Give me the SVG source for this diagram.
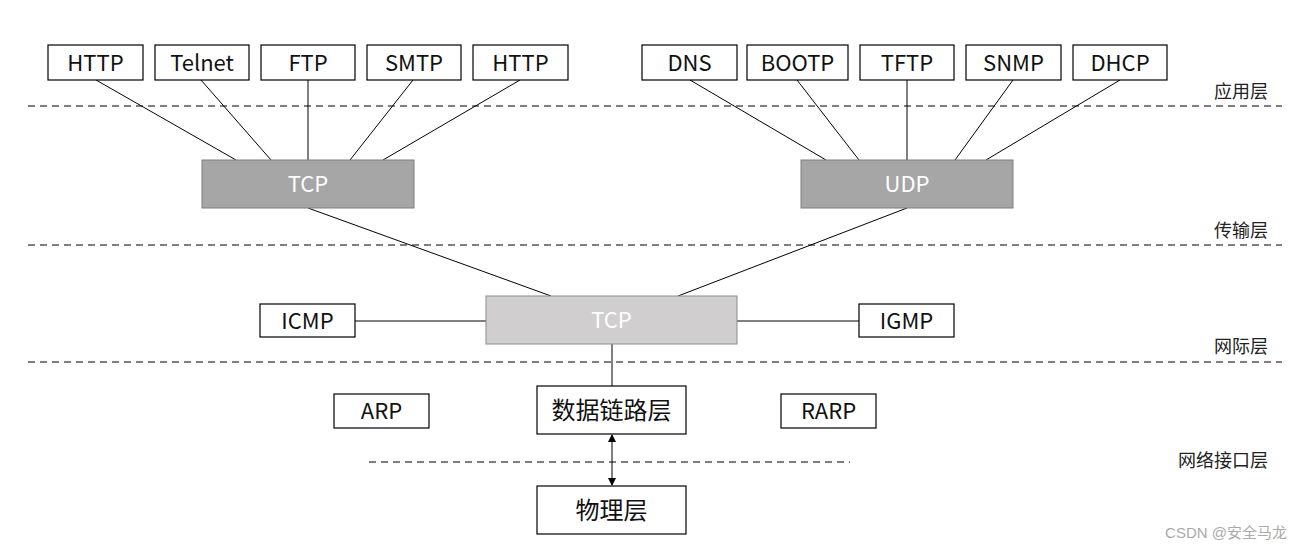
<svg xmlns="http://www.w3.org/2000/svg" width="1303" height="551" viewBox="0 0 1303 551">
<style>
.box{fill:#fff;stroke:#000;stroke-width:1.2}
.t{font-family:"Noto Sans CJK SC","Liberation Sans",sans-serif;font-size:22px;fill:#111;text-anchor:middle;dominant-baseline:central}
.cn{font-size:24px}
.w{fill:#fff}
.lbl{font-family:"Noto Sans CJK SC","Liberation Sans",sans-serif;font-size:18px;fill:#222;text-anchor:end}
.ln{stroke:#000;stroke-width:1;fill:none}
.dash{stroke:#000;stroke-width:1;stroke-dasharray:7 5;fill:none}
</style>
<defs>
<marker id="ah" markerWidth="8" markerHeight="8" refX="7" refY="4" orient="auto-start-reverse" markerUnits="userSpaceOnUse">
<path d="M0,0 L8,4 L0,8 Z" fill="#000"/>
</marker>
</defs>
<rect width="1303" height="551" fill="#fff"/>
<g id="layers">
<line class="dash" x1="28" y1="106" x2="1282" y2="106"/>
<line class="dash" x1="28" y1="245" x2="1282" y2="245"/>
<line class="dash" x1="28" y1="362" x2="1282" y2="362"/>
<line class="dash" x1="369" y1="462" x2="850" y2="462"/>
<text class="lbl" x="1268" y="98">应用层</text>
<text class="lbl" x="1268" y="237">传输层</text>
<text class="lbl" x="1268" y="353">网际层</text>
<text class="lbl" x="1268" y="467">网络接口层</text>
</g>
<g id="connectors">
<line class="ln" x1="96" y1="80" x2="236" y2="160"/>
<line class="ln" x1="201" y1="80" x2="271" y2="160"/>
<line class="ln" x1="308" y1="80" x2="308" y2="160"/>
<line class="ln" x1="413" y1="80" x2="350" y2="160"/>
<line class="ln" x1="520" y1="80" x2="383" y2="160"/>
<line class="ln" x1="690" y1="80" x2="826" y2="160"/>
<line class="ln" x1="797" y1="80" x2="859" y2="160"/>
<line class="ln" x1="907" y1="80" x2="907" y2="160"/>
<line class="ln" x1="1013" y1="80" x2="955" y2="160"/>
<line class="ln" x1="1120" y1="80" x2="986" y2="160"/>
<line class="ln" x1="308" y1="208" x2="551" y2="296"/>
<line class="ln" x1="907" y1="208" x2="678" y2="296"/>
<line class="ln" x1="355" y1="321" x2="486" y2="321"/>
<line class="ln" x1="737" y1="321" x2="859" y2="321"/>
<line class="ln" x1="612" y1="344" x2="612" y2="386"/>
<line class="ln" x1="612" y1="435" x2="612" y2="485" marker-start="url(#ah)" marker-end="url(#ah)"/>
</g>
<g id="n-http1"><rect class="box" x="48" y="45" width="95" height="35"/><text class="t" x="95.5" y="61">HTTP</text></g>
<g id="n-telnet"><rect class="box" x="155" y="45" width="94" height="35"/><text class="t" x="202" y="61">Telnet</text></g>
<g id="n-ftp"><rect class="box" x="261" y="45" width="94" height="35"/><text class="t" x="308" y="61">FTP</text></g>
<g id="n-smtp"><rect class="box" x="367" y="45" width="94" height="35"/><text class="t" x="414" y="61">SMTP</text></g>
<g id="n-http2"><rect class="box" x="473" y="45" width="95" height="35"/><text class="t" x="520.5" y="61">HTTP</text></g>
<g id="n-dns"><rect class="box" x="642" y="45" width="95" height="35"/><text class="t" x="689.5" y="61">DNS</text></g>
<g id="n-bootp"><rect class="box" x="747" y="45" width="101" height="35"/><text class="t" x="797.5" y="61">BOOTP</text></g>
<g id="n-tftp"><rect class="box" x="860" y="45" width="94" height="35"/><text class="t" x="907" y="61">TFTP</text></g>
<g id="n-snmp"><rect class="box" x="966" y="45" width="95" height="35"/><text class="t" x="1013.5" y="61">SNMP</text></g>
<g id="n-dhcp"><rect class="box" x="1073" y="45" width="94" height="35"/><text class="t" x="1120" y="61">DHCP</text></g>
<g id="n-tcp"><rect x="202" y="160" width="212" height="48" fill="#a6a6a6" stroke="#7f7f7f"/><text class="t w" x="308" y="182">TCP</text></g>
<g id="n-udp"><rect x="801" y="160" width="212" height="48" fill="#a6a6a6" stroke="#7f7f7f"/><text class="t w" x="907" y="182">UDP</text></g>
<g id="n-ip"><rect x="486" y="296" width="251" height="48" fill="#d0cece" stroke="#8c8c8c"/><text class="t w" x="611.5" y="318">TCP</text></g>
<g id="n-icmp"><rect class="box" x="260" y="304" width="95" height="33"/><text class="t" x="307.5" y="319">ICMP</text></g>
<g id="n-igmp"><rect class="box" x="859" y="304" width="95" height="33"/><text class="t" x="906.5" y="319">IGMP</text></g>
<g id="n-arp"><rect class="box" x="334" y="394" width="95" height="34"/><text class="t" x="381.5" y="409">ARP</text></g>
<g id="n-dll"><rect class="box" x="537" y="386" width="149" height="48"/><text class="t cn" x="611.5" y="408">数据链路层</text></g>
<g id="n-rarp"><rect class="box" x="781" y="394" width="95" height="34"/><text class="t" x="828.5" y="409">RARP</text></g>
<g id="n-phy"><rect class="box" x="537" y="486" width="149" height="48"/><text class="t cn" x="611.5" y="508">物理层</text></g>
<text x="1287" y="538" font-family="Liberation Sans,Noto Sans CJK SC,sans-serif" font-size="15" fill="#aaa" text-anchor="end">CSDN @安全马龙</text>
</svg>
